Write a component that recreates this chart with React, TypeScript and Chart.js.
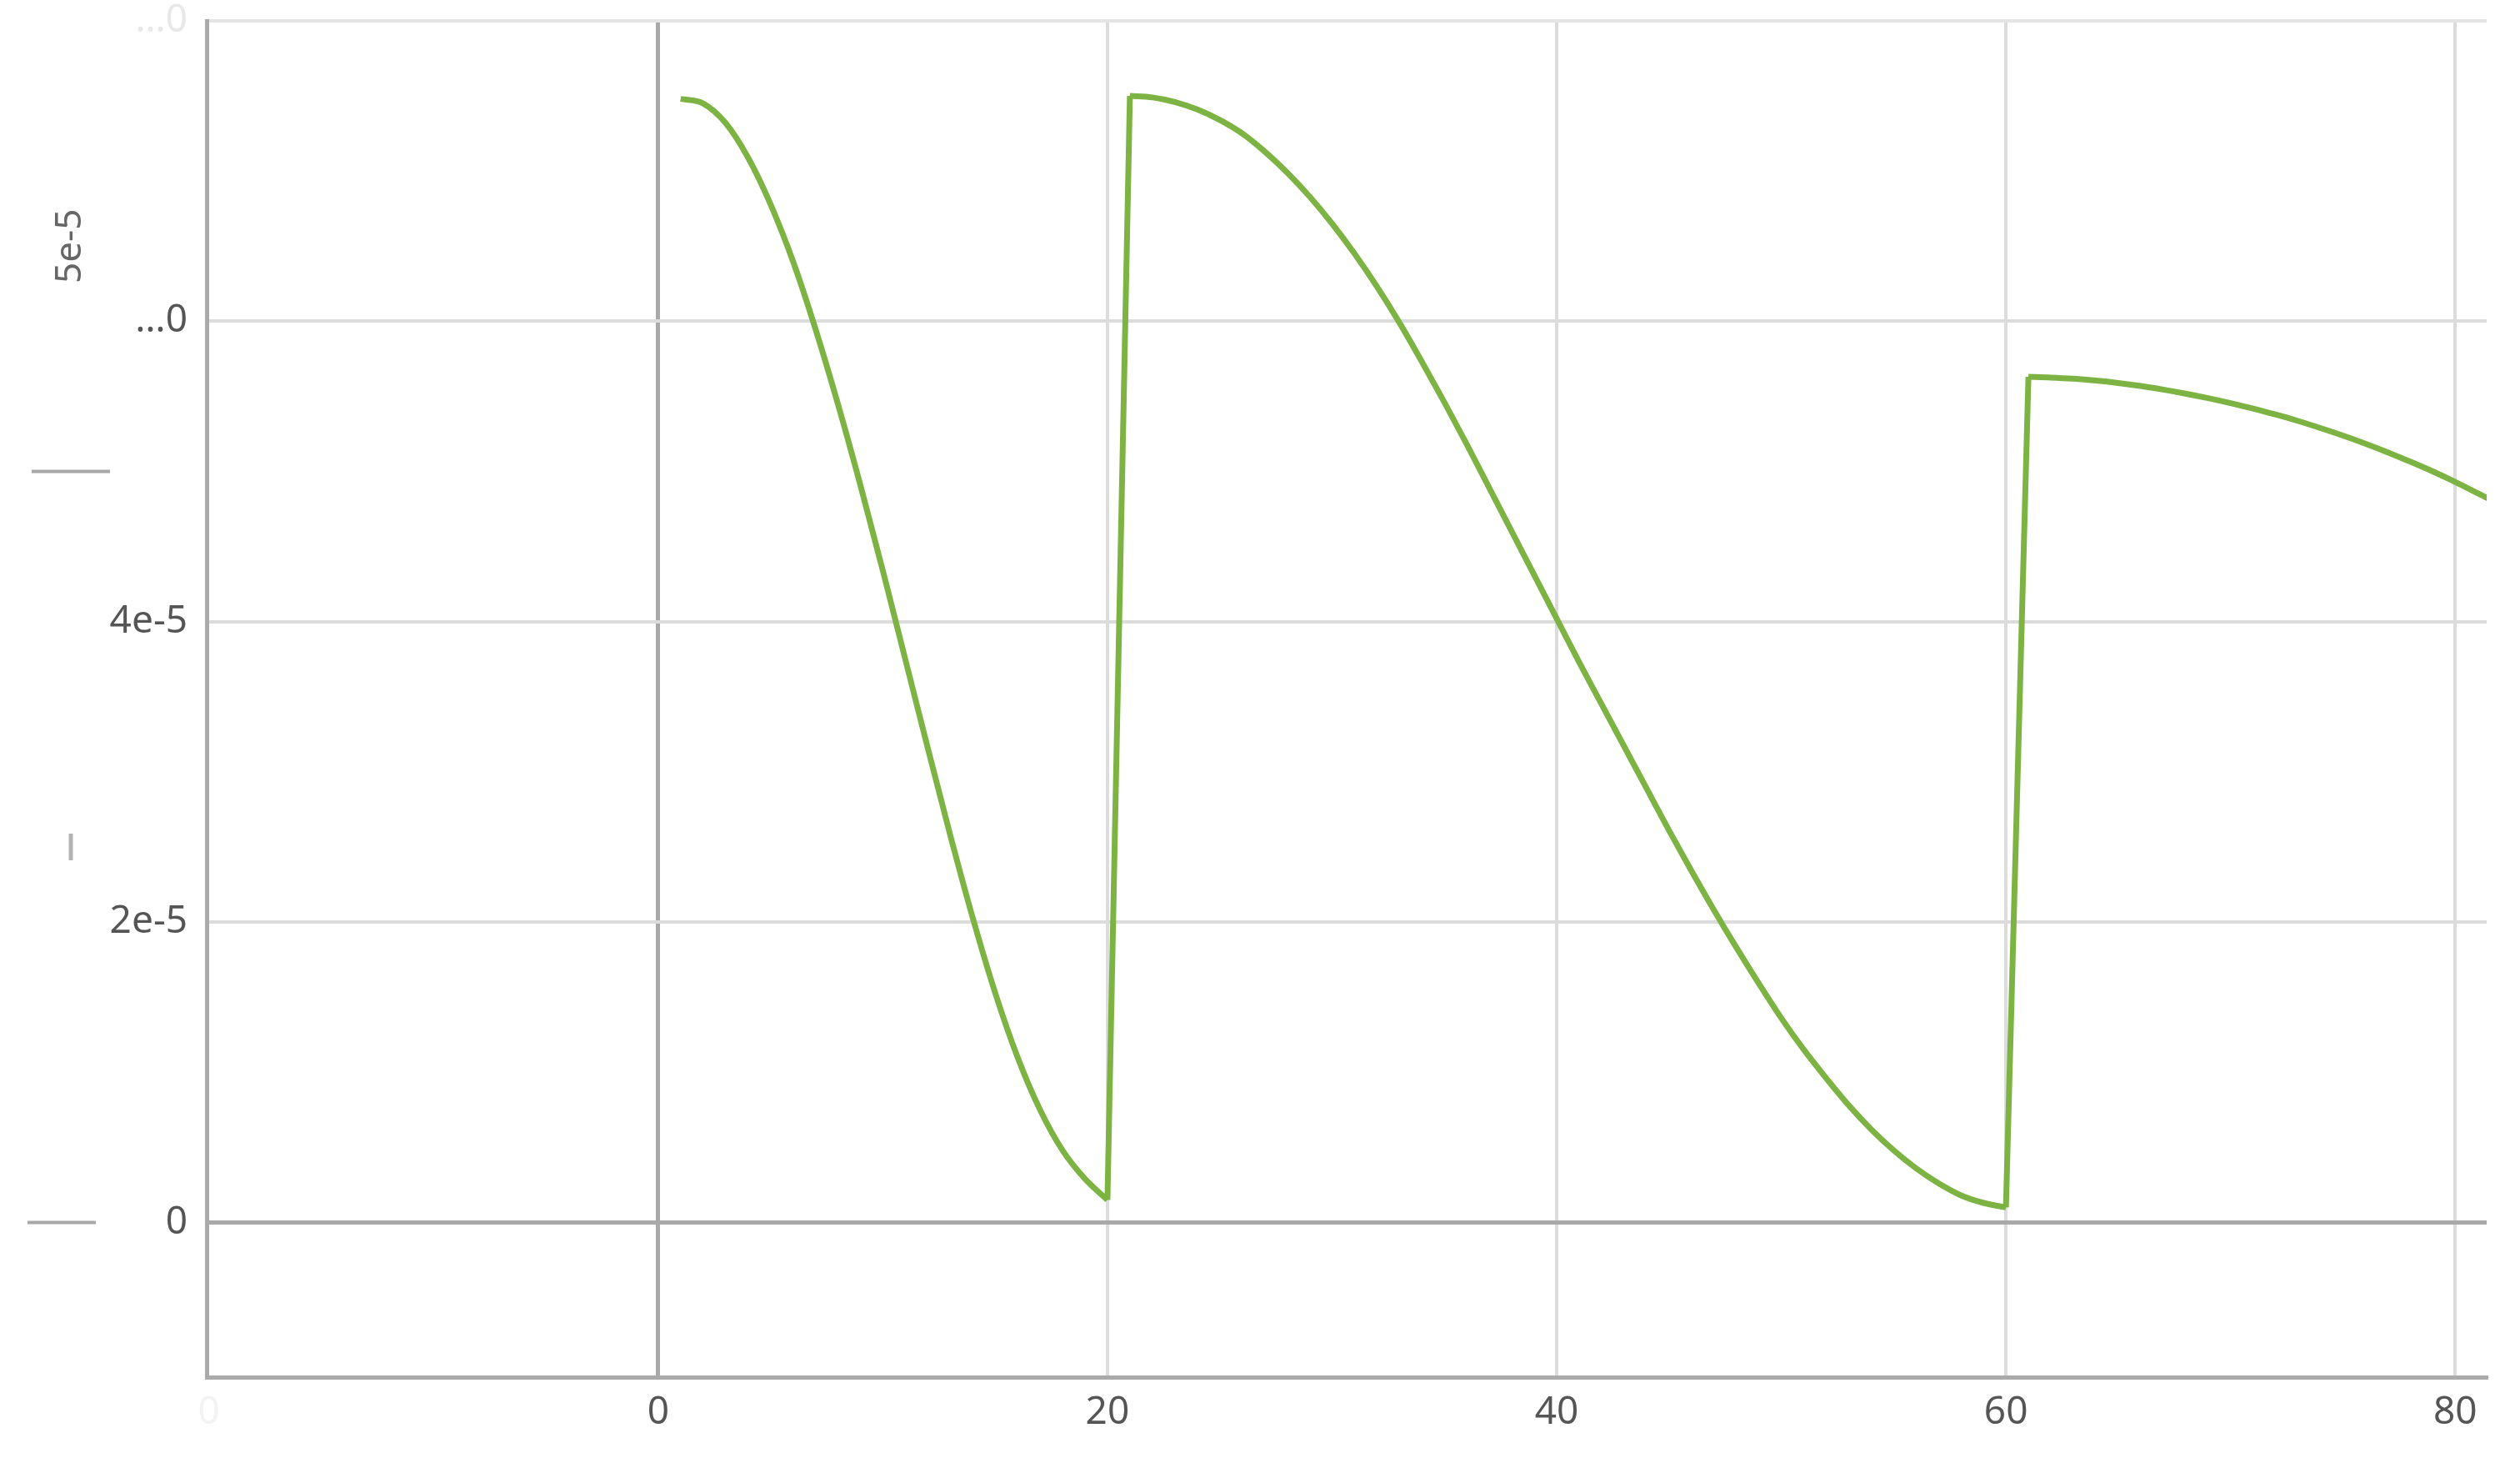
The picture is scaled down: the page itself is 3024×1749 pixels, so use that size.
import React, { useEffect, useRef } from "react";
import { Chart, registerables } from "chart.js";

Chart.register(...registerables);

// ---- data ----
const cycle1Steps = [1, 2, 3, 4, 5, 6, 7, 8, 9, 10, 11, 12, 13, 14, 15, 16, 17, 18, 19, 20];
const cycle1Values = [
  7.48e-5, 7.45e-5, 7.32e-5, 7.09e-5, 6.78e-5, 6.4e-5, 5.95e-5, 5.45e-5, 4.91e-5, 4.34e-5,
  3.75e-5, 3.16e-5, 2.58e-5, 2.03e-5, 1.53e-5, 1.1e-5, 0.75e-5, 0.48e-5, 0.29e-5, 0.15e-5,
];

const cycle2Steps = [
  21, 22, 23, 24, 25, 26, 27, 28, 29, 30, 31, 32, 33, 34, 35, 36, 37, 38, 39, 40,
  41, 42, 43, 44, 45, 46, 47, 48, 49, 50, 51, 52, 53, 54, 55, 56, 57, 58, 59, 60,
];
const cycle2Values = [
  7.5e-5, 7.49e-5, 7.46e-5, 7.41e-5, 7.34e-5, 7.25e-5, 7.13e-5, 6.99e-5, 6.83e-5, 6.65e-5,
  6.45e-5, 6.23e-5, 5.99e-5, 5.73e-5, 5.46e-5, 5.18e-5, 4.89e-5, 4.6e-5, 4.31e-5, 4.02e-5,
  3.73e-5, 3.45e-5, 3.17e-5, 2.89e-5, 2.61e-5, 2.34e-5, 2.08e-5, 1.83e-5, 1.59e-5, 1.36e-5,
  1.15e-5, 0.96e-5, 0.78e-5, 0.62e-5, 0.48e-5, 0.36e-5, 0.26e-5, 0.18e-5, 0.13e-5, 0.1e-5,
];

const cycle3Steps = [61, 62, 63, 64, 65, 66, 67, 68, 69, 70, 71, 72, 73, 74, 75, 76, 77, 78, 79, 80, 81, 82];
const cycle3Values = [
  5.63e-5, 5.625e-5, 5.617e-5, 5.605e-5, 5.589e-5, 5.569e-5, 5.545e-5, 5.518e-5, 5.488e-5, 5.455e-5,
  5.419e-5, 5.379e-5, 5.336e-5, 5.289e-5, 5.239e-5, 5.185e-5, 5.127e-5, 5.065e-5, 5.0e-5, 4.93e-5,
  4.855e-5, 4.78e-5,
];

const xTickValues = [-20, 0, 20, 40, 60, 80];
const xTickLabels = ["0", "0", "20", "40", "60", "80"];
const yTickValues = [0, 2e-5, 4e-5, 6e-5, 8e-5];
const yTickLabels = ["0", "2e-5", "4e-5", "…0", "…0"];

const sideLabelText = "5e-5";
const sideLabelValue = 6.5e-5;
const sideDashValues = [5e-5, 0];
const sideBarValue = 2.5e-5;

const X_MIN = -20.1;
const X_MAX = 81.4;
const Y_MIN = -1.03e-5;
const Y_MAX = 8e-5;

const LINE_COLOR = "#7cb342";
const LINE_WIDTH = 7;
const FONT_FAMILY = "'Noto Sans', 'DejaVu Sans', sans-serif";

const sideDecorations = {
  id: "sideDecorations",
  afterDraw(chart: any) {
    const { ctx } = chart;
    const y = chart.scales.y;
    ctx.save();
    ctx.strokeStyle = "#a8a8a8";
    ctx.lineWidth = 4;
    const p1 = y.getPixelForValue(sideDashValues[0]);
    ctx.beginPath();
    ctx.moveTo(38, p1);
    ctx.lineTo(132, p1);
    ctx.stroke();
    const p2 = y.getPixelForValue(sideDashValues[1]);
    ctx.beginPath();
    ctx.moveTo(33, p2);
    ctx.lineTo(115, p2);
    ctx.stroke();
    const p3 = y.getPixelForValue(sideBarValue);
    ctx.strokeStyle = "#b4b4b4";
    ctx.lineWidth = 5;
    ctx.beginPath();
    ctx.moveTo(85, p3 - 16);
    ctx.lineTo(85, p3 + 16);
    ctx.stroke();
    const p4 = y.getPixelForValue(sideLabelValue);
    ctx.translate(84, p4);
    ctx.rotate(-Math.PI / 2);
    ctx.fillStyle = "#666666";
    ctx.font = `44px ${FONT_FAMILY}`;
    ctx.textAlign = "center";
    ctx.textBaseline = "middle";
    ctx.fillText(sideLabelText, 0, 0);
    ctx.restore();
  },
};

function toPoints(steps: number[], vals: number[]) {
  return steps.map((t, i) => ({ x: t, y: vals[i] }));
}

export default function App() {
  const canvasRef = useRef<HTMLCanvasElement | null>(null);

  useEffect(() => {
    document.body.style.margin = "0";
    const canvas = canvasRef.current;
    if (!canvas) return;

    const c1 = toPoints(cycle1Steps, cycle1Values);
    const c2 = toPoints(cycle2Steps, cycle2Values);
    const c3 = toPoints(cycle3Steps, cycle3Values);

    // smooth decays, separated by gaps
    const curvePoints: any[] = [
      ...c1,
      { x: (c1[c1.length - 1].x + c2[0].x) / 2, y: null },
      ...c2,
      { x: (c2[c2.length - 1].x + c3[0].x) / 2, y: null },
      ...c3,
    ];
    // straight jumps between consecutive cycles
    const jumpPoints: any[] = [
      c1[c1.length - 1],
      c2[0],
      { x: (c2[0].x + c2[c2.length - 1].x) / 2, y: null },
      c2[c2.length - 1],
      c3[0],
    ];

    const chart = new Chart(canvas, {
      type: "line",
      data: {
        datasets: [
          {
            data: curvePoints,
            borderColor: LINE_COLOR,
            borderWidth: LINE_WIDTH,
            pointRadius: 0,
            pointHoverRadius: 0,
            fill: false,
            spanGaps: false,
            cubicInterpolationMode: "monotone",
          },
          {
            data: jumpPoints,
            borderColor: LINE_COLOR,
            borderWidth: LINE_WIDTH,
            pointRadius: 0,
            pointHoverRadius: 0,
            fill: false,
            spanGaps: false,
            tension: 0,
            borderJoinStyle: "miter",
          },
        ],
      },
      options: {
        responsive: false,
        animation: false,
        events: [],
        layout: { padding: { top: 25, right: 40, left: 0, bottom: 0 } },
        plugins: {
          legend: { display: false },
          tooltip: { enabled: false },
          title: { display: false },
        },
        scales: {
          x: {
            type: "linear",
            min: X_MIN,
            max: X_MAX,
            afterBuildTicks: (scale: any) => {
              scale.ticks = xTickValues.map((v) => ({ value: v }));
            },
            afterFit: (scale: any) => {
              scale.height = 97;
              scale.paddingLeft = 0;
              scale.paddingRight = 0;
            },
            ticks: {
              autoSkip: false,
              maxRotation: 0,
              padding: 20,
              font: { size: 46, family: FONT_FAMILY, lineHeight: 1 },
              color: (c: any) => (c.index === 0 ? "#f3f3f3" : "#555555"),
              callback: (_v: any, i: number) => xTickLabels[i],
            },
            grid: {
              drawTicks: false,
              color: (c: any) =>
                c.tick && c.tick.value === 0
                  ? "#a9a9a9"
                  : c.tick && c.tick.value === -20
                  ? "rgba(0,0,0,0)"
                  : "#dcdcdc",
              lineWidth: (c: any) => (c.tick && c.tick.value === 0 ? 5 : 4),
            },
            border: { display: true, color: "#aaaaaa", width: 5 },
          },
          y: {
            type: "linear",
            min: Y_MIN,
            max: Y_MAX,
            afterBuildTicks: (scale: any) => {
              scale.ticks = yTickValues.map((v) => ({ value: v }));
            },
            afterFit: (scale: any) => {
              scale.width = 248;
              scale.paddingTop = 0;
              scale.paddingBottom = 0;
            },
            ticks: {
              autoSkip: false,
              padding: 23,
              font: { size: 46, family: FONT_FAMILY, lineHeight: 1 },
              color: (c: any) => (c.index === 4 ? "#e8e8e8" : "#555555"),
              callback: (_v: any, i: number) => yTickLabels[i],
            },
            grid: {
              drawTicks: false,
              color: (c: any) =>
                c.tick && c.tick.value === 0
                  ? "#a9a9a9"
                  : c.tick && c.tick.value === 8e-5
                  ? "#e4e4e4"
                  : "#dcdcdc",
              lineWidth: (c: any) => (c.tick && c.tick.value === 0 ? 5 : 4),
            },
            border: { display: true, color: "#aaaaaa", width: 5 },
          },
        },
      },
      plugins: [sideDecorations],
    });

    return () => {
      chart.destroy();
    };
  }, []);

  return (
    <canvas
      ref={canvasRef}
      width={3024}
      height={1749}
      style={{ display: "block", width: "3024px", height: "1749px" }}
    />
  );
}
